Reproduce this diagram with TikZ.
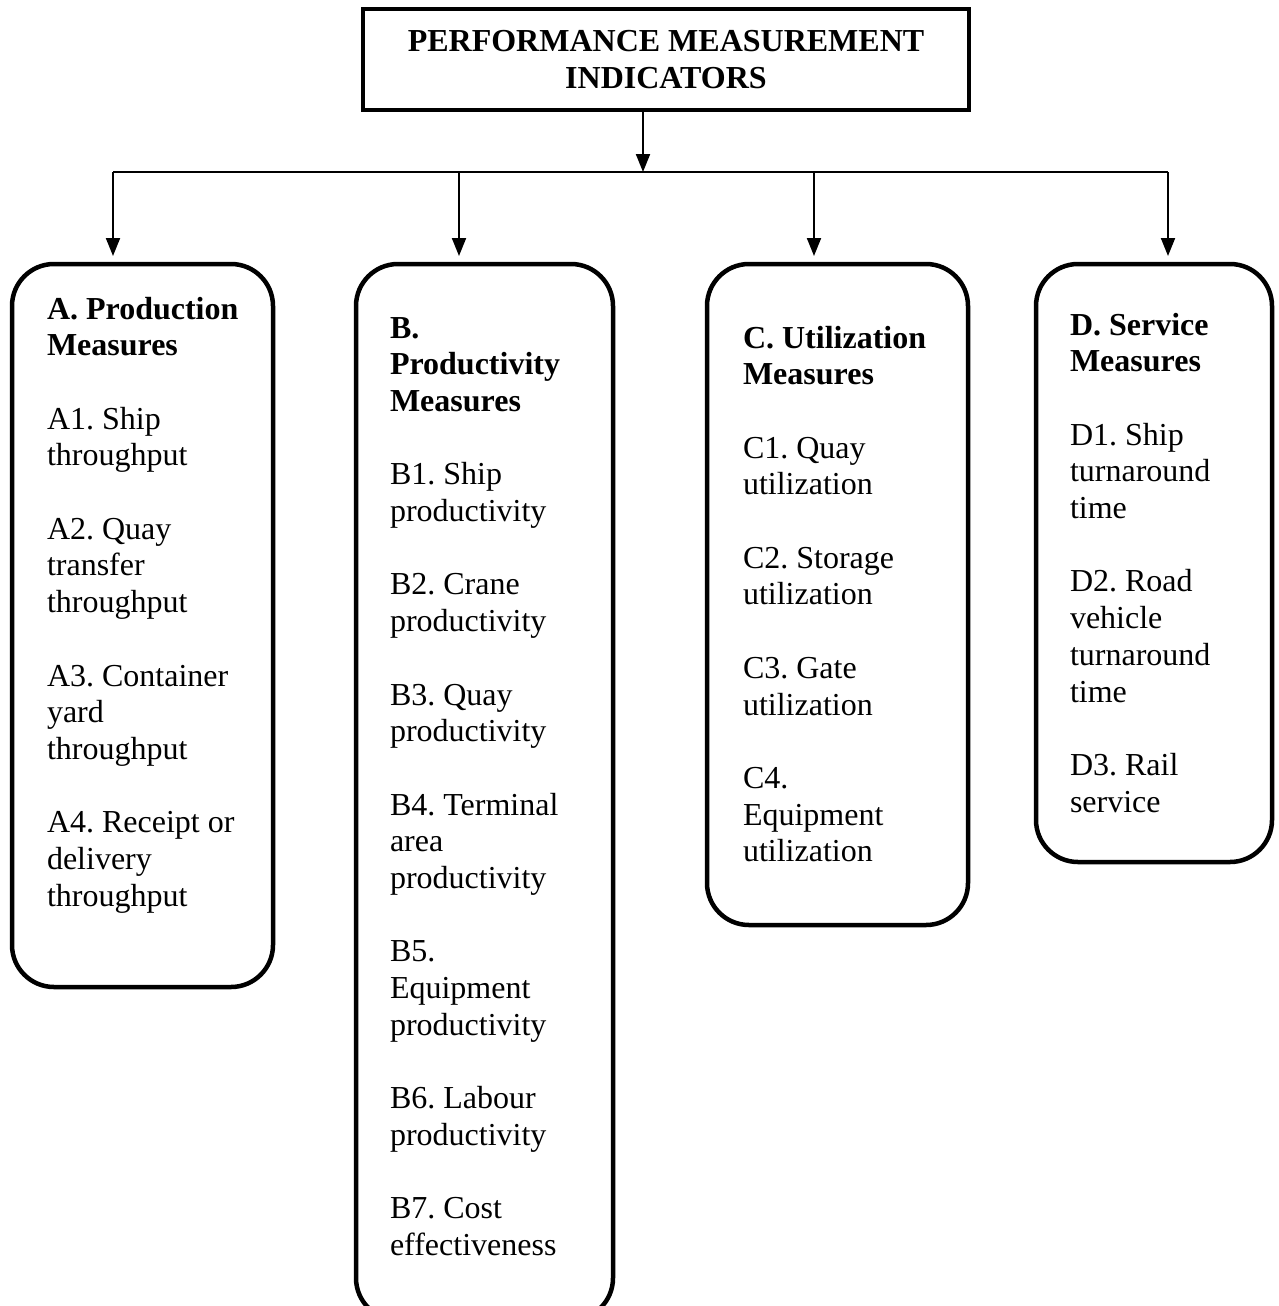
\documentclass[tikz,border=0pt]{standalone}
\usepackage{fontspec}
\setmainfont{Liberation Serif}
\usetikzlibrary{arrows.meta}
\frenchspacing
\begin{document}
\begin{tikzpicture}[x=1pt,y=-1pt,
  every node/.style={inner sep=0pt, outer sep=0pt},
  catbox/.style={draw, rectangle, rounded corners=42pt, line width=4.5pt},
  headbox/.style={draw, rectangle, line width=4pt, align=center,
    font=\bfseries\fontsize{32}{36.7}\selectfont},
  body/.style={anchor=base west, text width=#1, align=flush left,
    font=\frenchspacing\fontsize{32}{36.7}\selectfont},
  link/.style={line width=2pt},
  arrowlink/.style={link, -{Triangle[length=18pt,width=14pt]}},
]
\useasboundingbox (0,0) rectangle (1278,1306);
\clip (0,0) rectangle (1278,1306);

% heading
\node[headbox, minimum width=606pt, minimum height=101pt] (top) at (666,59.5)
  {PERFORMANCE MEASUREMENT\\INDICATORS};

% category boxes
\node[catbox, minimum width=261pt, minimum height=723pt]  (A) at (142.5,625.5) {};
\node[catbox, minimum width=257pt, minimum height=1056pt] (B) at (484.5,792) {};
\node[catbox, minimum width=261pt, minimum height=661pt]  (C) at (837.5,594.5) {};
\node[catbox, minimum width=236pt, minimum height=598pt]  (D) at (1154,563) {};

% box contents
\node[body=220pt] (ta) at (47,319) {\textbf{A. Production}\\\textbf{Measures}\\[\baselineskip]
  A1. Ship\\throughput\\[\baselineskip]
  A2. Quay\\transfer\\throughput\\[\baselineskip]
  A3. Container\\yard\\throughput\\[\baselineskip]
  A4. Receipt or\\delivery\\throughput};

\node[body=215pt] (tb) at (390,338) {\textbf{B.}\\\textbf{Productivity}\\\textbf{Measures}\\[\baselineskip]
  B1. Ship\\productivity\\[\baselineskip]
  B2. Crane\\productivity\\[\baselineskip]
  B3. Quay\\productivity\\[\baselineskip]
  B4. Terminal\\area\\productivity\\[\baselineskip]
  B5.\\Equipment\\productivity\\[\baselineskip]
  B6. Labour\\productivity\\[\baselineskip]
  B7. Cost\\effectiveness};

\node[body=215pt] (tc) at (743,348) {\textbf{C. Utilization}\\\textbf{Measures}\\[\baselineskip]
  C1. Quay\\utilization\\[\baselineskip]
  C2. Storage\\utilization\\[\baselineskip]
  C3. Gate\\utilization\\[\baselineskip]
  C4.\\Equipment\\utilization};

\node[body=195pt] (td) at (1070,335) {\textbf{D. Service}\\\textbf{Measures}\\[\baselineskip]
  D1. Ship\\turnaround\\time\\[\baselineskip]
  D2. Road\\vehicle\\turnaround\\time\\[\baselineskip]
  D3. Rail\\service};

% distribution line
\coordinate (bus)  at (643,172);
\coordinate (busA) at (113,172);
\coordinate (busB) at (459,172);
\coordinate (busC) at (814,172);
\coordinate (busD) at (1168,172);

\draw[arrowlink] (top.south -| bus) -- (bus);
\draw[link] (busA) -- (busD);
\draw[arrowlink, shorten >=8pt] (busA) -- (busA |- A.north);
\draw[arrowlink, shorten >=8pt] (busB) -- (busB |- B.north);
\draw[arrowlink, shorten >=8pt] (busC) -- (busC |- C.north);
\draw[arrowlink, shorten >=8pt] (busD) -- (busD |- D.north);
\end{tikzpicture}
\end{document}
